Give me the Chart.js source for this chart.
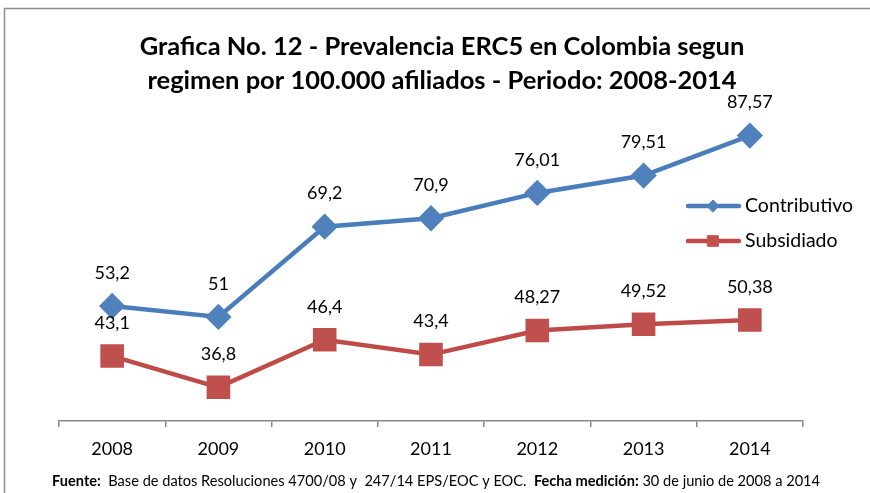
<!DOCTYPE html>
<html>
<head>
<meta charset="utf-8">
<script src="https://cdn.jsdelivr.net/npm/chart.js@4"></script>
<style>
  html, body { margin: 0; padding: 0; background: #fff; }
  #wrap { width: 870px; height: 493px; }
</style>
</head>
<body>
<div id="wrap"><canvas id="prevChart" width="870" height="493"></canvas></div>
<script>
// Prevalencia ERC5 por regimen
const years = ['2008', '2009', '2010', '2011', '2012', '2013', '2014'];
const contributivo = [53.2, 51, 69.2, 70.9, 76.01, 79.51, 87.57];
const subsidiado = [43.1, 36.8, 46.4, 43.4, 48.27, 49.52, 50.38];
const seriesNames = ['Contributivo', 'Subsidiado'];

const titleLines = [
  'Grafica No. 12 - Prevalencia ERC5 en Colombia segun',
  'regimen por 100.000 afiliados - Periodo: 2008-2014'
];

const BLUE = '#4A7EBB', BLUE_MK = '#4F81BD';
const RED = '#BE4B48', RED_MK = '#C0504D';
const FONT = 'Lato, "Open Sans", sans-serif';

const fmt = v => String(v).replace('.', ',');

// frame, title, labels, legend and source note
const decor = {
  id: 'decor',
  beforeDraw(chart) {
    const ctx = chart.ctx;
    ctx.save();
    ctx.fillStyle = '#fff';
    ctx.fillRect(0, 0, chart.width, chart.height);
    ctx.strokeStyle = '#8f8f8f';
    ctx.lineWidth = 1.5;
    ctx.beginPath();
    ctx.moveTo(4.5, 493);
    ctx.lineTo(4.5, 8.5);
    ctx.lineTo(870, 8.5);
    ctx.stroke();
    ctx.restore();
  },
  afterDatasetsDraw(chart) {
    const ctx = chart.ctx;
    ctx.save();

    // title
    ctx.fillStyle = '#000';
    ctx.textAlign = 'center';
    ctx.textBaseline = 'middle';
    ctx.font = 'bold 25.5px ' + FONT;
    ctx.fillText(titleLines[0], 442, 47);
    ctx.fillText(titleLines[1], 442, 81);

    // value labels
    ctx.font = '18px ' + FONT;
    chart.data.datasets.forEach((ds, i) => {
      chart.getDatasetMeta(i).data.forEach((pt, j) => {
        ctx.fillText(fmt(ds.data[j]), pt.x, pt.y - 33);
      });
    });

    // legend
    const items = [
      { y: 206, line: BLUE, mk: BLUE_MK, style: 'rectRot', r: 6 },
      { y: 241, line: RED, mk: RED_MK, style: 'rect', r: 7.5 }
    ];
    items.forEach((it, i) => {
      ctx.strokeStyle = it.line;
      ctx.lineWidth = 4.5;
      ctx.lineCap = 'round';
      ctx.beginPath();
      ctx.moveTo(688, it.y);
      ctx.lineTo(739, it.y);
      ctx.stroke();
      ctx.fillStyle = it.mk;
      ctx.strokeStyle = it.mk;
      ctx.lineWidth = 1;
      Chart.helpers.drawPoint(ctx, { pointStyle: it.style, radius: it.r, borderWidth: 1 }, 713, it.y);
      ctx.fillStyle = '#000';
      ctx.textAlign = 'left';
      ctx.font = '19.5px ' + FONT;
      ctx.fillText(seriesNames[i], 745, it.y);
    });

    // source note
    const parts = [
      ['bold', 'Fuente:'],
      ['normal', '  Base de datos Resoluciones 4700/08 y  247/14 EPS/EOC y EOC.  '],
      ['bold', 'Fecha medición:'],
      ['normal', ' 30 de junio de 2008 a 2014']
    ];
    let x = 52;
    ctx.textAlign = 'left';
    parts.forEach(p => {
      ctx.font = p[0] + ' 14.6px ' + FONT;
      ctx.fillText(p[1], x, 481);
      x += ctx.measureText(p[1]).width;
    });
    ctx.restore();
  }
};

new Chart(document.getElementById('prevChart'), {
  type: 'line',
  data: {
    labels: years,
    datasets: [{
      label: seriesNames[0],
      data: contributivo,
      borderColor: BLUE,
      backgroundColor: BLUE_MK,
      pointBackgroundColor: BLUE_MK,
      pointBorderColor: BLUE_MK,
      pointStyle: 'rectRot',
      pointRadius: 10,
      borderWidth: 4.5,
      tension: 0
    }, {
      label: seriesNames[1],
      data: subsidiado,
      borderColor: RED,
      backgroundColor: RED_MK,
      pointBackgroundColor: RED_MK,
      pointBorderColor: RED_MK,
      pointStyle: 'rect',
      pointRadius: 13.5,
      borderWidth: 4.5,
      tension: 0
    }]
  },
  options: {
    responsive: false,
    animation: false,
    layout: { padding: { left: 59, right: 67, top: 74, bottom: 32 } },
    plugins: {
      legend: { display: false },
      title: { display: false },
      tooltip: { enabled: false }
    },
    scales: {
      x: {
        offset: true,
        afterFit: s => { s.height = 40; },
        grid: { offset: true, drawOnChartArea: false, tickLength: 6, color: '#888', lineWidth: 1.5 },
        border: { display: true, color: '#888', width: 1.5 },
        ticks: { color: '#000', font: { family: FONT, size: 18 }, padding: 11 }
      },
      y: {
        display: false,
        min: 30,
        max: 100
      }
    }
  },
  plugins: [decor]
});
</script>
</body>
</html>
